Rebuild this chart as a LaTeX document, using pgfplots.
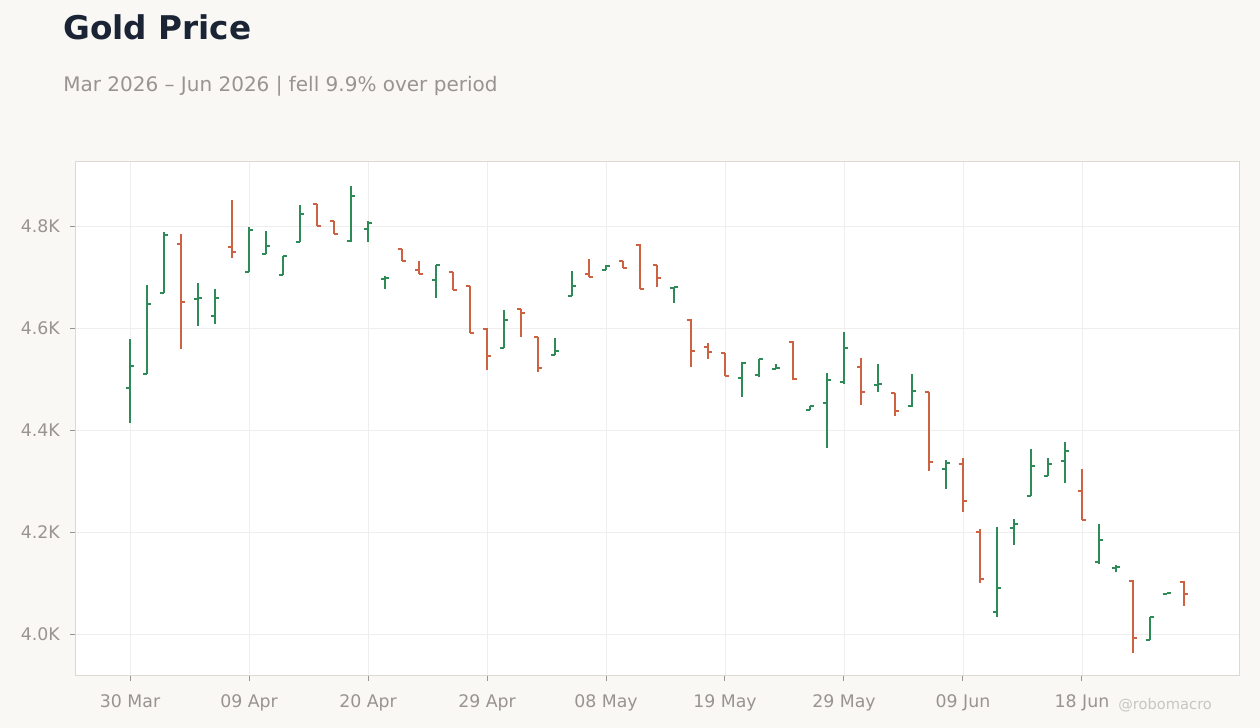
\documentclass[border=0pt]{standalone}
\usepackage{fontspec}
\setmainfont{DejaVu Sans}
\usepackage{pgfplots}
\usepackage{pgfplotstable}
\pgfplotsset{compat=1.18}

\definecolor{bgc}{HTML}{F9F8F5}
\definecolor{titlec}{HTML}{1B2434}
\definecolor{subc}{HTML}{999490}
\definecolor{framec}{HTML}{DDD8D0}
\definecolor{gridc}{HTML}{EFEEEC}
\definecolor{upc}{HTML}{2E8B57}
\definecolor{downc}{HTML}{CC6242}
\definecolor{markc}{HTML}{C8C6C2}

% open tick to the left, close tick to the right
\pgfdeclareplotmark{otick}{\pgfpathmoveto{\pgfqpoint{-3pt}{0pt}}\pgfpathlineto{\pgfqpoint{0pt}{0pt}}\pgfusepathqstroke}
\pgfdeclareplotmark{ctick}{\pgfpathmoveto{\pgfqpoint{0pt}{0pt}}\pgfpathlineto{\pgfqpoint{3pt}{0pt}}\pgfusepathqstroke}

% x = trading day, o h l c
\pgfplotstableread{
x o h l c
0 4482 4578 4414 4526
1 4510 4684 4509 4647
2 4669 4788 4668 4783
4 4656 4688 4605 4658
5 4624 4676 4608 4658
7 4710 4798 4710 4793
8 4745 4790 4745 4761
9 4704 4742 4704 4742
10 4769 4841 4769 4824
13 4771 4878 4768 4858
14 4794 4809 4769 4806
15 4697 4703 4677 4699
18 4695 4724 4658 4724
22 4561 4636 4561 4615
25 4548 4581 4548 4556
26 4663 4712 4663 4682
28 4714 4724 4714 4721
32 4679 4680 4650 4680
36 4502 4533 4465 4532
37 4508 4540 4505 4540
38 4520 4529 4519 4522
40 4439 4448 4439 4448
41 4454 4512 4364 4499
42 4495 4592 4490 4561
44 4488 4529 4475 4490
46 4447 4510 4446 4477
48 4324 4341 4285 4336
51 4044 4210 4033 4091
52 4208 4225 4174 4216
53 4271 4363 4270 4329
54 4310 4345 4310 4333
55 4340 4377 4297 4360
57 4141 4216 4137 4184
58 4129 4136 4121 4131
60 3989 4033 3988 4033
61 4079 4081 4078 4080
}\up

\pgfplotstableread{
x o h l c
3 4765 4784 4559 4652
6 4759 4851 4738 4750
11 4844 4844 4800 4800
12 4810 4810 4784 4784
16 4755 4755 4732 4732
17 4713 4732 4705 4705
19 4709 4709 4675 4675
20 4682 4682 4591 4591
21 4599 4600 4518 4546
23 4637 4637 4582 4630
24 4582 4582 4513 4521
27 4705 4736 4701 4701
29 4731 4731 4718 4718
30 4763 4765 4677 4677
31 4723 4724 4680 4699
33 4616 4617 4524 4555
34 4563 4570 4540 4553
35 4552 4552 4506 4506
39 4573 4574 4499 4500
43 4524 4541 4450 4475
45 4472 4472 4428 4438
47 4474 4474 4320 4337
49 4334 4345 4240 4261
50 4201 4206 4101 4108
56 4281 4324 4224 4224
59 4105 4106 3964 3992
62 4103 4105 4056 4079
}\down

\begin{document}
\begin{tikzpicture}
\fill[bgc] (0,0) rectangle (945pt,546pt);

\node[anchor=base west, inner sep=0pt, text=titlec, font=\fontsize{24.5}{29}\selectfont\bfseries]
  at (47.25pt,516pt) {Gold Price};
\node[anchor=base west, inner sep=0pt, text=subc, font=\fontsize{15}{18}\selectfont]
  at (47.25pt,477pt) {Mar 2026 – Jun 2026 | fell 9.9\% over period};
\node[anchor=base west, inner sep=0pt, text=markc, font=\fontsize{11}{13}\selectfont]
  at (838.5pt,13.5pt) {@robomacro};

\begin{axis}[
  at={(56.25pt,39pt)}, anchor=south west,
  width=873pt, height=385.5pt, scale only axis,
  xmin=-3.24, xmax=65.24,
  ymin=3918, ymax=4925.5,
  axis background/.style={fill=white},
  axis line style={framec, line width=0.75pt},
  xtick={0,7,14,21,28,35,42,49,56},
  xticklabels={30 Mar,09 Apr,20 Apr,29 Apr,08 May,19 May,29 May,09 Jun,18 Jun},
  ytick={4000,4200,4400,4600,4800},
  yticklabels={4.0K,4.2K,4.4K,4.6K,4.8K},
  xtick pos=bottom, ytick pos=left,
  tick align=outside, major tick length=3.75pt,
  tick style={subc, line width=0.75pt},
  grid=major,
  grid style={gridc, line width=0.6pt},
  ticklabel style={text=subc, font=\fontsize{13}{15}\selectfont, inner sep=0pt},
  xticklabel style={anchor=base, yshift=-20pt},
  yticklabel style={anchor=east, xshift=-7.5pt},
  clip=false,
]
% high-low lines
\addplot[draw=none, no markers,
  error bars/.cd, y dir=plus, y explicit, error mark=none,
  error bar style={draw=upc, line width=1.5pt}]
  table[x=x, y=l, y error expr=\thisrow{h}-\thisrow{l}] {\up};
\addplot[draw=none, no markers,
  error bars/.cd, y dir=plus, y explicit, error mark=none,
  error bar style={draw=downc, line width=1.5pt}]
  table[x=x, y=l, y error expr=\thisrow{h}-\thisrow{l}] {\down};
% open and close ticks
\addplot[upc, only marks, mark=otick, mark options={line width=1.5pt}] table[x=x, y=o] {\up};
\addplot[upc, only marks, mark=ctick, mark options={line width=1.5pt}] table[x=x, y=c] {\up};
\addplot[downc, only marks, mark=otick, mark options={line width=1.5pt}] table[x=x, y=o] {\down};
\addplot[downc, only marks, mark=ctick, mark options={line width=1.5pt}] table[x=x, y=c] {\down};
\end{axis}
\end{tikzpicture}
\end{document}
